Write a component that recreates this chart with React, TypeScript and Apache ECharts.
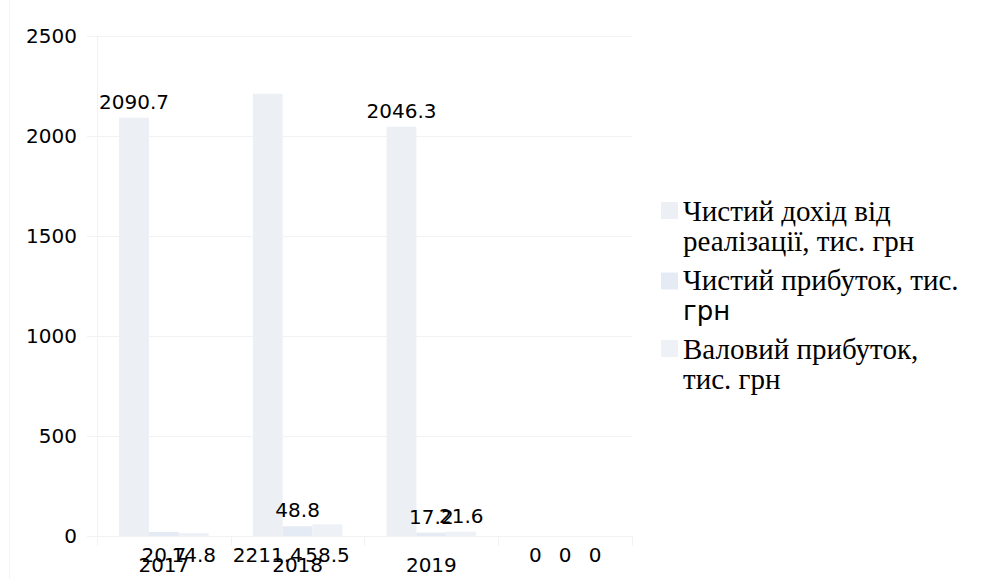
import React, { useEffect, useRef } from "react";
import * as echarts from "echarts";

const categories = ["2017", "2018", "2019", ""];
const seriesNames = [
  "Чистий дохід від реалізації, тис. грн",
  "Чистий прибуток, тис. грн",
  "Валовий прибуток, тис. грн",
];
const revenue = [2090.7, 2211.4, 2046.3, 0];
const netProfit = [20.7, 48.8, 17.2, 0];
const grossProfit = [14.8, 58.5, 21.6, 0];
// which side of the bar each value label sits on, per category
const revenueLabelSide = ["top", "bottom", "top", "bottom"];
const netLabelSide = ["bottom", "top", "top", "bottom"];
const grossLabelSide = ["bottom", "bottom", "top", "bottom"];

const colors = ["#ecf0f5", "#e5ebf4", "#eef2f7"];
const faint = "#f1f2f4";
const sans = "DejaVu Sans";
const serif = "Liberation Serif";

const legendText: Record<string, string> = {
  [seriesNames[0]]: "{s|Чистий дохід від}\n{s|реалізації, тис. грн}",
  [seriesNames[1]]: "{s|Чистий прибуток, тис.}\n{d|грн}",
  [seriesNames[2]]: "{s|Валовий прибуток,}\n{s|тис. грн}",
};

function makeSeries(name: string, values: number[], sides: string[], color: string) {
  return {
    name,
    type: "bar",
    barGap: "0%",
    barCategoryGap: "33%",
    itemStyle: { color },
    data: values.map((v, i) => ({
      value: v,
      label: { position: sides[i], distance: sides[i] === "bottom" ? 9 : 6 },
    })),
    label: {
      show: true,
      color: "#000",
      fontFamily: sans,
      fontSize: 20,
    },
  };
}

export default function App() {
  const ref = useRef<HTMLDivElement>(null);
  useEffect(() => {
    if (!ref.current) return;
    const chart = echarts.init(ref.current, undefined, { renderer: "svg" });
    chart.setOption({
      animation: false,
      backgroundColor: "#fff",
      grid: { left: 97, right: 356, top: 36, bottom: 43, containLabel: false },
      graphic: [
        {
          type: "line",
          shape: { x1: 9.5, y1: 0, x2: 9.5, y2: 579 },
          style: { stroke: "#f4f4f4", lineWidth: 1 },
        },
      ],
      legend: {
        orient: "vertical",
        left: 656,
        top: 191,
        align: "left",
        icon: "rect",
        itemWidth: 17,
        itemHeight: 17,
        itemGap: 10,
        formatter: (name: string) => legendText[name] ?? name,
        textStyle: {
          padding: [30, 0, 0, 0],
          align: "left",
          rich: {
            s: { fontFamily: serif, fontSize: 29, lineHeight: 30, color: "#000", align: "left" },
            d: { fontFamily: sans, fontSize: 26, lineHeight: 33, color: "#000", align: "left" },
          },
        },
      },
      xAxis: {
        type: "category",
        data: categories,
        axisLine: { show: true, lineStyle: { color: faint } },
        axisTick: { show: true, length: 10, lineStyle: { color: faint } },
        axisLabel: { color: "#000", fontFamily: sans, fontSize: 20, margin: 19 },
        splitLine: { show: false },
      },
      yAxis: {
        type: "value",
        min: 0,
        max: 2500,
        interval: 500,
        axisLine: { show: true, lineStyle: { color: faint } },
        axisTick: { show: true, length: 10, lineStyle: { color: faint } },
        axisLabel: {
          color: "#000",
          fontFamily: sans,
          fontSize: 20,
          margin: 20,
          formatter: (v: number) => String(v),
        },
        splitLine: { show: true, lineStyle: { color: faint } },
      },
      series: [
        makeSeries(seriesNames[0], revenue, revenueLabelSide, colors[0]),
        makeSeries(seriesNames[1], netProfit, netLabelSide, colors[1]),
        makeSeries(seriesNames[2], grossProfit, grossLabelSide, colors[2]),
      ],
    });
    return () => chart.dispose();
  }, []);
  return (
    <div
      ref={ref}
      style={{ position: "absolute", left: 0, top: 0, width: 988, height: 579 }}
    />
  );
}
